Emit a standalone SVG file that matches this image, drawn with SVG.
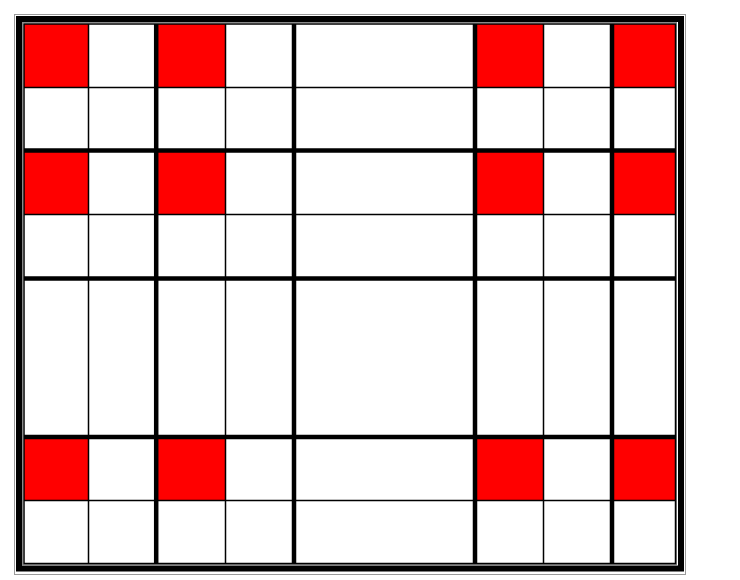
<svg xmlns="http://www.w3.org/2000/svg" width="740" height="580" viewBox="0 0 740 580">
<style>
.red{fill:#ff0000}
.thin{stroke:#000;stroke-width:1.5;fill:none}
.thick{stroke:#000;stroke-width:4.5;fill:none}
</style>
<rect width="740" height="580" fill="#fff"/>
<g id="frame">
<rect x="14.5" y="14.5" width="671" height="560" fill="none" stroke="#9a9a9a" stroke-width="1"/>
<rect x="19" y="19" width="662" height="549.5" fill="none" stroke="#000" stroke-width="6"/>
<rect x="22.5" y="22.5" width="654" height="542" fill="none" stroke="#8a8a8a" stroke-width="1"/>
</g>
<g id="cells">
<rect class="red" x="24" y="24" width="64" height="63"/>
<rect class="red" x="158" y="24" width="67" height="63"/>
<rect class="red" x="477" y="24" width="66" height="63"/>
<rect class="red" x="614" y="24" width="61.5" height="63"/>
<rect class="red" x="158" y="152" width="67" height="62"/>
<rect class="red" x="24" y="152" width="64" height="62"/>
<rect class="red" x="477" y="152" width="66" height="62"/>
<rect class="red" x="614" y="152" width="61.5" height="62"/>
<rect class="red" x="24" y="439" width="64" height="61"/>
<rect class="red" x="158" y="439" width="67" height="61"/>
<rect class="red" x="477" y="439" width="66" height="61"/>
<rect class="red" x="614" y="439" width="61.5" height="61"/>
</g>
<g id="grid">
<rect class="thin" x="24" y="24" width="651.5" height="539.5"/>
<line class="thin" x1="88.5" y1="24" x2="88.5" y2="563"/>
<line class="thin" x1="225.5" y1="24" x2="225.5" y2="563"/>
<line class="thin" x1="543.5" y1="24" x2="543.5" y2="563"/>
<line class="thin" x1="24" y1="87.5" x2="675" y2="87.5"/>
<line class="thin" x1="24" y1="214.5" x2="675" y2="214.5"/>
<line class="thin" x1="24" y1="500.5" x2="675" y2="500.5"/>
<line class="thick" x1="156.2" y1="24" x2="156.2" y2="563"/>
<line class="thick" x1="294" y1="24" x2="294" y2="563"/>
<line class="thick" x1="475" y1="24" x2="475" y2="563"/>
<line class="thick" x1="612" y1="24" x2="612" y2="563"/>
<line class="thick" x1="24" y1="150.5" x2="675" y2="150.5"/>
<line class="thick" x1="24" y1="278.5" x2="675" y2="278.5"/>
<line class="thick" x1="24" y1="437" x2="675" y2="437"/>
</g>
</svg>
